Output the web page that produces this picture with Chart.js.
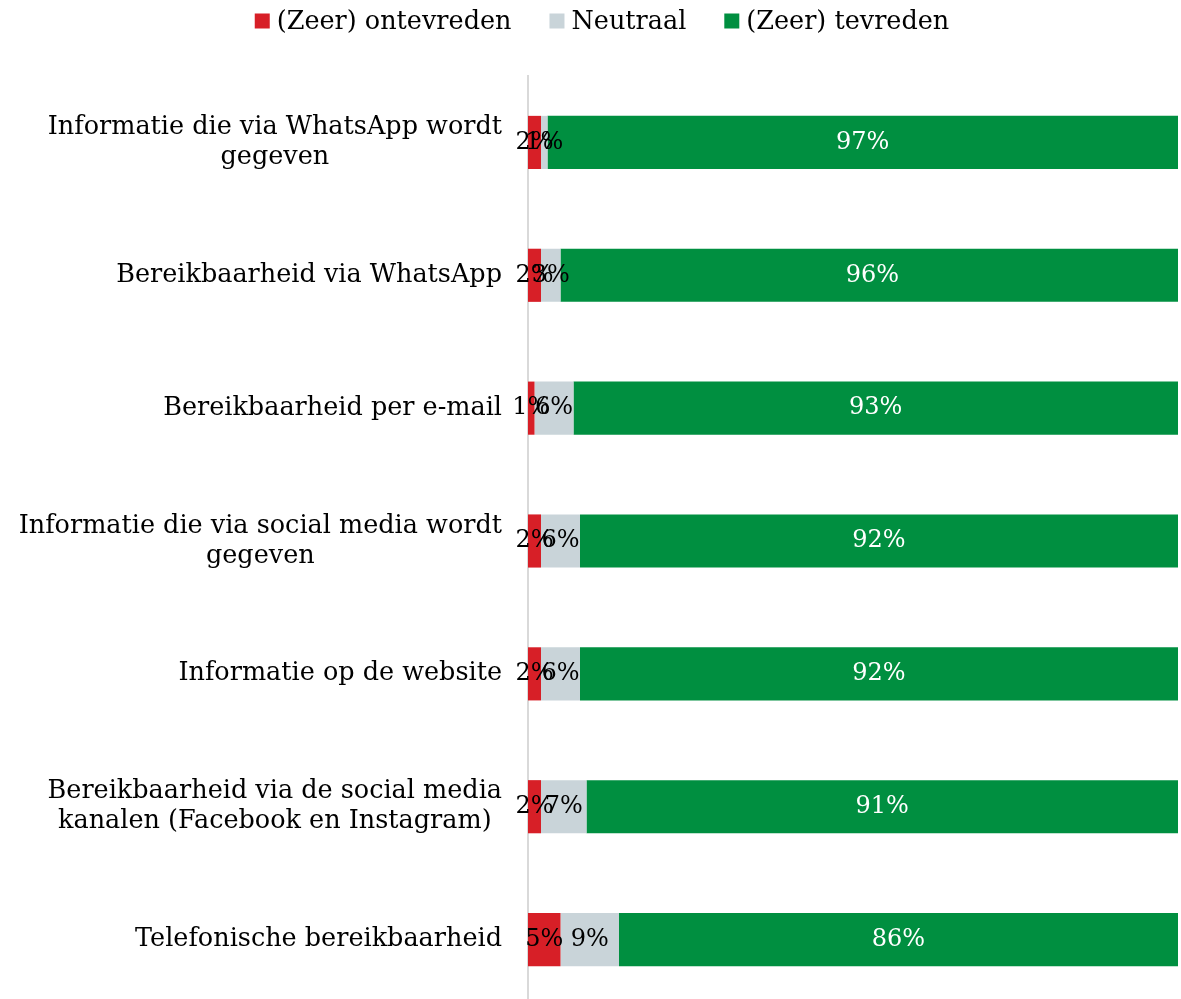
<!DOCTYPE html>
<html>
<head>
<meta charset="utf-8">
<script src="https://cdn.jsdelivr.net/npm/chart.js@4"></script>
<style>
  html, body { margin: 0; padding: 0; background: #fff; overflow: hidden; }
  #wrap { width: 1181px; height: 1006px; }
</style>
</head>
<body>
<div id="wrap"><canvas id="chart"></canvas></div>
<script>
// categorieen (regels onder elkaar)
const categories = [
    ['Informatie die via WhatsApp wordt', 'gegeven'],
    ['Bereikbaarheid via WhatsApp'],
    ['Bereikbaarheid per e-mail'],
    ['Informatie die via social media wordt', 'gegeven'],
    ['Informatie op de website'],
    ['Bereikbaarheid via de social media', 'kanalen (Facebook en Instagram)'],
    ['Telefonische bereikbaarheid']
];
const seriesNames = ['(Zeer) ontevreden', 'Neutraal', '(Zeer) tevreden'];
const ontevreden = [2, 2, 1, 2, 2, 2, 5];
const neutraal = [1, 3, 6, 6, 6, 7, 9];
const tevreden = [97, 96, 93, 92, 92, 91, 86];

const FONT = "'DejaVu Serif', 'Liberation Serif', serif";
const colors = ['#d71f27', '#c9d4d9', '#008f40'];
const labelColors = ['#000', '#000', '#fff'];

// labels op de balken
const barLabels = {
    id: 'barLabels',
    afterDatasetsDraw(chart) {
        const ctx = chart.ctx;
        ctx.save();
        ctx.font = '24px ' + FONT;
        ctx.textAlign = 'center';
        ctx.textBaseline = 'middle';
        chart.data.datasets.forEach((ds, i) => {
            const meta = chart.getDatasetMeta(i);
            meta.data.forEach((bar, j) => {
                const x = (bar.x + bar.base) / 2;
                ctx.fillStyle = labelColors[i];
                ctx.fillText(ds.data[j] + '%', x, bar.y);
            });
        });
        ctx.restore();
    }
};

// categorie labels, regels gecentreerd t.o.v. elkaar
const catLabels = {
    id: 'catLabels',
    afterDraw(chart) {
        const ctx = chart.ctx;
        const yScale = chart.scales.y;
        const right = chart.chartArea.left - 26;
        ctx.save();
        ctx.font = '25.5px ' + FONT;
        ctx.fillStyle = '#000';
        ctx.textAlign = 'center';
        ctx.textBaseline = 'middle';
        categories.forEach((lines, i) => {
            const y = yScale.getPixelForTick(i);
            let maxW = 0;
            lines.forEach(l => { maxW = Math.max(maxW, ctx.measureText(l).width); });
            const cx = right - maxW / 2;
            const lh = 30;
            const top = y - (lines.length - 1) * lh / 2;
            lines.forEach((l, k) => {
                ctx.fillText(l, cx, top + k * lh);
            });
        });
        ctx.restore();
    }
};

// legenda bovenaan
const topLegend = {
    id: 'topLegend',
    afterDraw(chart) {
        const ctx = chart.ctx;
        const box = 15, gapText = 7, gapItem = 38, y = 21;
        ctx.save();
        ctx.font = '25.5px ' + FONT;
        ctx.textBaseline = 'middle';
        ctx.textAlign = 'left';
        const widths = seriesNames.map(n => ctx.measureText(n).width);
        let total = 0;
        widths.forEach(w => { total += box + gapText + w; });
        total += gapItem * (seriesNames.length - 1);
        let x = 602 - total / 2;
        seriesNames.forEach((n, i) => {
            ctx.fillStyle = colors[i];
            ctx.fillRect(x, y - box / 2, box, box);
            ctx.fillStyle = '#000';
            ctx.fillText(n, x + box + gapText, y + 1);
            x += box + gapText + widths[i] + gapItem;
        });
        ctx.restore();
    }
};

new Chart(document.getElementById('chart'), {
    type: 'bar',
    data: {
        labels: categories.map(c => c.join(' ')),
        datasets: [
            { label: seriesNames[0], data: ontevreden, backgroundColor: colors[0] },
            { label: seriesNames[1], data: neutraal, backgroundColor: colors[1] },
            { label: seriesNames[2], data: tevreden, backgroundColor: colors[2] }
        ]
    },
    options: {
        indexAxis: 'y',
        responsive: true,
        maintainAspectRatio: false,
        animation: false,
        barPercentage: 0.5,
        categoryPercentage: 0.8,
        layout: { padding: { top: 76, right: 3, bottom: 0, left: 0 } },
        scales: {
            x: { stacked: true, min: 0, max: 100, display: false },
            y: {
                stacked: true,
                grid: { display: false },
                border: { display: true, color: '#d9d9d9', width: 2 },
                ticks: { display: false },
                afterFit(scale) { scale.width = 528; }
            }
        },
        plugins: {
            legend: { display: false },
            tooltip: { enabled: false }
        }
    },
    plugins: [barLabels, catLabels, topLegend]
});
</script>
</body>
</html>
